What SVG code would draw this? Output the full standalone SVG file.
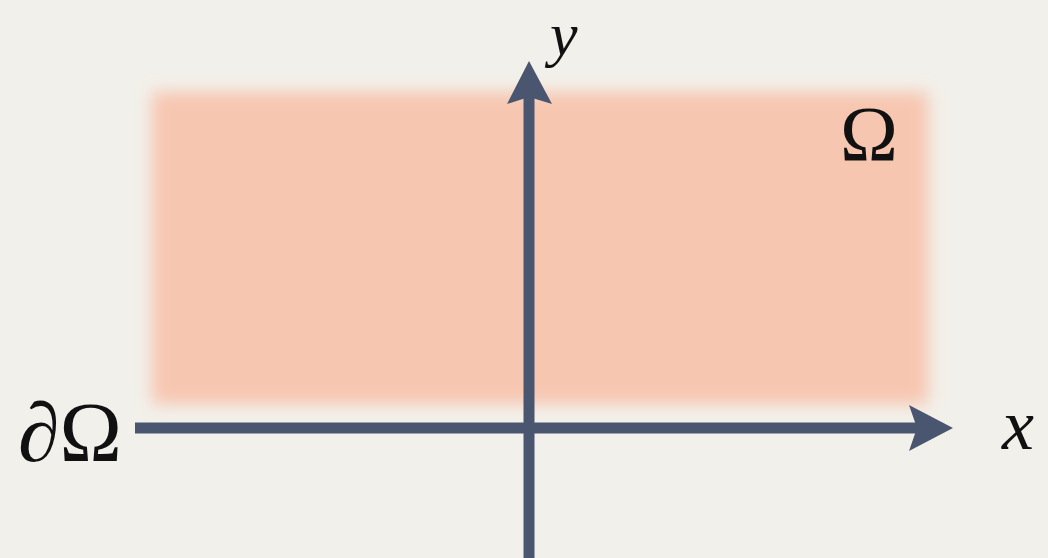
<svg xmlns="http://www.w3.org/2000/svg" width="1048" height="558" viewBox="0 0 1048 558">
<style>
.axis{stroke:#4a5670;stroke-width:11;fill:none}
.head{fill:#4a5670}
.lbl{font-family:"Liberation Serif","DejaVu Serif",serif;fill:#111}
.it{font-style:italic}
</style>
<defs>
<filter id="blur" x="-10%" y="-10%" width="120%" height="120%"><feGaussianBlur stdDeviation="8"/></filter>
</defs>
<rect width="1048" height="558" fill="#f2f0ea"/>
<g id="domain">
<rect x="152" y="92" width="776" height="312" fill="#f7c6b0" filter="url(#blur)"/>
</g>
<g id="connectors">
<line class="axis" x1="135" y1="428" x2="918" y2="428"/>
<path class="head" d="M953,428 L909,405 L917,428 L909,451 Z"/>
<line class="axis" x1="529" y1="558" x2="529" y2="96"/>
<path class="head" d="M529,61 L507,104 L529,97 L552,104 Z"/>
</g>
<g id="label-y"><text class="lbl it" x="550" y="55" font-size="62">y</text></g>
<g id="label-x"><text class="lbl it" x="1002" y="449" font-size="72">x</text></g>
<g id="label-omega"><text class="lbl" x="840" y="160" font-size="78">Ω</text></g>
<g id="label-boundary"><text class="lbl" x="18" y="461" font-size="84">∂Ω</text></g>
</svg>
